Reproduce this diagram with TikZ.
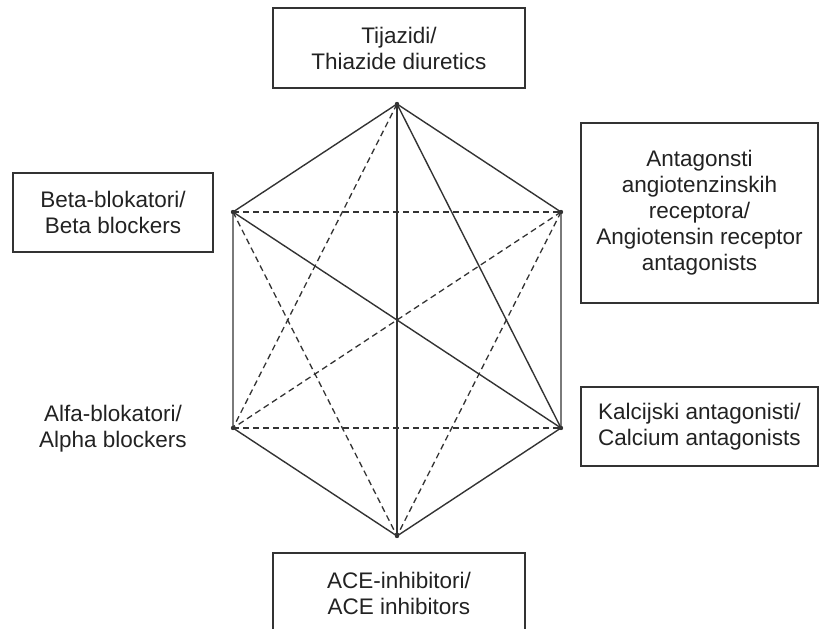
\documentclass[tikz,border=0pt]{standalone}
\usepackage{fontspec}
\setmainfont{Liberation Sans}
\definecolor{linec}{HTML}{333333}
\definecolor{txtc}{HTML}{222222}
\tikzset{
  boxnode/.style={draw=linec, line width=1.3pt, align=center, text=txtc,
    font=\fontsize{22.5}{26}\selectfont, inner sep=0pt},
  plainlbl/.style={align=center, text=txtc, font=\fontsize{22.5}{26}\selectfont, inner sep=0pt},
  edge/.style={draw=linec, line width=1.4pt},
  dashedge/.style={draw=linec, line width=1.3pt, dash pattern=on 6pt off 4pt},
  vdot/.style={fill=linec}
}
\begin{document}
\begin{tikzpicture}[x=1pt,y=-1pt]
\clip (0,0) rectangle (820,629);
\useasboundingbox (0,0) rectangle (820,629);
% labels
\node[boxnode, minimum width=252pt, minimum height=80pt] (thz) at (399,48) {Tijazidi/\\Thiazide diuretics};
\node[boxnode, minimum width=200pt, minimum height=79pt] (beta) at (113,212.5) {Beta-blokatori/\\Beta blockers};
\node[boxnode, minimum width=237pt, minimum height=180pt] (arb) at (699.5,213) {Antagonsti\\angiotenzinskih\\receptora/\\Angiotensin receptor\\antagonists};
\node[boxnode, minimum width=237pt, minimum height=79pt] (ca) at (699.5,426.5) {Kalcijski antagonisti/\\Calcium antagonists};
\node[plainlbl] (alpha) at (113,429) {Alfa-blokatori/\\Alpha blockers};
\node[boxnode, minimum width=252pt, minimum height=80pt] (ace) at (399,593) {ACE-inhibitori/\\ACE inhibitors};
% vertices
\coordinate (T) at (397,104);
\coordinate (UL) at (233,212);
\coordinate (UR) at (561,212);
\coordinate (LL) at (233,428);
\coordinate (LR) at (561,428);
\coordinate (B) at (397,536);
% dashed diagonals
\draw[dashedge] (UL) -- (UR);
\draw[dashedge] (LL) -- (LR);
\draw[dashedge] (T) -- (LL);
\draw[dashedge] (UL) -- (B);
\draw[dashedge] (UR) -- (B);
\draw[dashedge] (UR) -- (LL);
% solid edges
\draw[edge, line join=round] (T) -- (UR) -- (LR) -- (B) -- (LL) -- (UL) -- cycle;
\draw[edge] (T) -- (B);
\draw[edge] (T) -- (LR);
\draw[edge] (UL) -- (LR);
% dots
\foreach \v in {T,UL,UR,LL,LR,B} \fill[vdot] (\v) circle (2.2pt);
\end{tikzpicture}
\end{document}
